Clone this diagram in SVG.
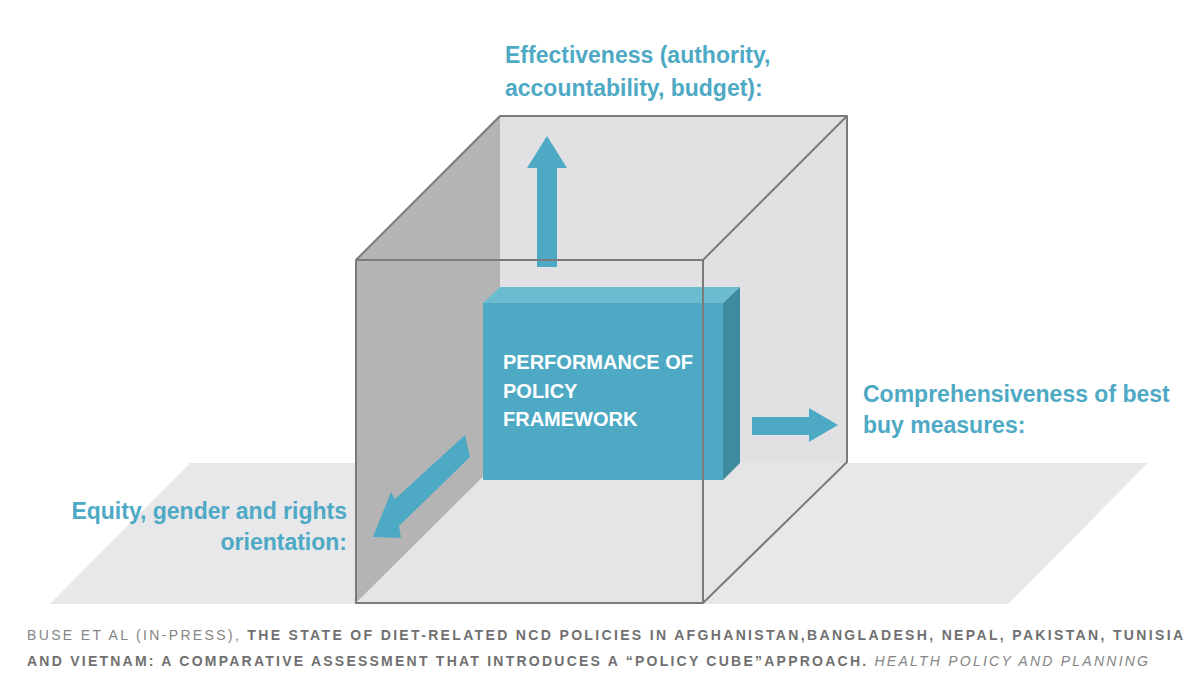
<svg xmlns="http://www.w3.org/2000/svg" width="1200" height="686" viewBox="0 0 1200 686">
  <style>
    .lbl { font-family: "Liberation Sans", Arial, sans-serif; font-weight: bold; font-size: 23px; fill: #4ea9c5; }
    .box { font-family: "Liberation Sans", Arial, sans-serif; font-weight: bold; font-size: 20px; fill: #ffffff; }
    .cap { font-family: "Liberation Sans", Arial, sans-serif; font-size: 14px; fill: #707070; }
    .edge { stroke: #7b7b7b; stroke-width: 2; fill: none; stroke-linejoin: round; }
    .arrow { fill: #4eaac4; }
  </style>
  <rect width="1200" height="686" fill="#ffffff"/>

  <g id="floor">
    <polygon points="190,463 1148,463 1008,604 50,604" fill="#e8e8ea"/>
  </g>

  <g id="cube-faces">
    <rect x="500" y="116" width="347" height="346" fill="#e1e1e3"/>
    <polygon points="356,260 500,116 500,460 356,603" fill="#b4b4b4"/>
    <polygon points="356,603 500,460 847,462 703,603" fill="#e5e5e7"/>
  </g>

  <g id="policy-framework">
    <rect x="483" y="303" width="240" height="177" fill="#4eaac4"/>
    <polygon points="483,303 500,287 740,287 723,303" fill="#6bbccf"/>
    <polygon points="723,303 740,287 740,463 723,480" fill="#3e8b9e"/>
    <text class="box" x="503" y="369">PERFORMANCE OF</text>
    <text class="box" x="503" y="398">POLICY</text>
    <text class="box" x="503" y="426">FRAMEWORK</text>
  </g>

  <g id="connectors">
    <polygon class="arrow" points="537,267 537,168 527,168 547,136 567,168 557,168 557,267"/>
    <polygon class="arrow" points="752,417 809,417 809,408 838,425 809,442 809,435 752,435"/>
    <polygon class="arrow" points="465,435 395,499 391,492 373,537 401,538 399,526 470,457"/>
  </g>

  <g id="cube-edges">
    <rect class="edge" x="356" y="260" width="347" height="343"/>
    <polyline class="edge" points="356,260 500,116 847,116 703,260"/>
    <polyline class="edge" points="847,116 847,462 703,603"/>
  </g>

  <g id="label-effectiveness">
    <text class="lbl" x="505" y="63">Effectiveness (authority,</text>
    <text class="lbl" x="505" y="96">accountability, budget):</text>
  </g>
  <g id="label-comprehensiveness">
    <text class="lbl" x="863" y="402">Comprehensiveness of best</text>
    <text class="lbl" x="863" y="433">buy measures:</text>
  </g>
  <g id="label-equity">
    <text class="lbl" x="347" y="519" text-anchor="end">Equity, gender and rights</text>
    <text class="lbl" x="347" y="550" text-anchor="end">orientation:</text>
  </g>

  <g id="caption">
    <text class="cap" x="27" y="640" textLength="1156" lengthAdjust="spacing"><tspan fill="#858585">BUSE ET AL (IN-PRESS), </tspan><tspan font-weight="bold">THE STATE OF DIET-RELATED NCD POLICIES IN AFGHANISTAN,BANGLADESH, NEPAL, PAKISTAN, TUNISIA</tspan></text>
    <text class="cap" x="27" y="666" textLength="1121" lengthAdjust="spacing"><tspan font-weight="bold">AND VIETNAM: A COMPARATIVE ASSESSMENT THAT INTRODUCES A “POLICY CUBE”APPROACH. </tspan><tspan font-style="italic" fill="#858585">HEALTH POLICY AND PLANNING</tspan></text>
  </g>
</svg>
